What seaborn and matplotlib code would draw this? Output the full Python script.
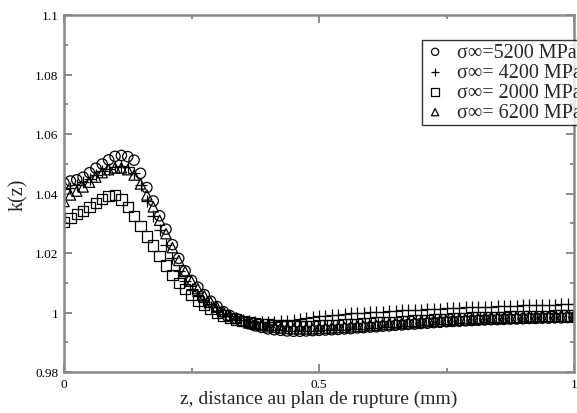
import numpy as np
import pandas as pd
import matplotlib
matplotlib.use('Agg')
import matplotlib.pyplot as plt
import seaborn as sns

# z grid (mm), one point every 0.0125
z = np.arange(81) * 0.0125

k_5200 = [1.0435, 1.0442, 1.0446, 1.0455, 1.0470, 1.0485, 1.0499, 1.0513, 1.0525, 1.0528,
          1.0524, 1.0512, 1.0468, 1.0420, 1.0375, 1.0325, 1.0280, 1.0228, 1.0182, 1.0140,
          1.0108, 1.0085, 1.0060, 1.0038, 1.0020, 1.0003, 0.9990, 0.9980, 0.9970, 0.9962,
          0.9955, 0.9950, 0.9945, 0.9942, 0.9940, 0.9938, 0.9937, 0.9937, 0.9938, 0.9939,
          0.9940, 0.9941, 0.9942, 0.9943, 0.9945, 0.9946, 0.9948, 0.9949, 0.9951, 0.9952,
          0.9954, 0.9955, 0.9957, 0.9958, 0.9960, 0.9961, 0.9963, 0.9964, 0.9966, 0.9967,
          0.9969, 0.9970, 0.9971, 0.9972, 0.9973, 0.9974, 0.9975, 0.9976, 0.9976, 0.9977,
          0.9978, 0.9978, 0.9979, 0.9980, 0.9980, 0.9981, 0.9981, 0.9982, 0.9982, 0.9983,
          0.9983]

k_4200 = [1.0414, 1.0420, 1.0428, 1.0438, 1.0450, 1.0462, 1.0474, 1.0484, 1.0490, 1.0492,
          1.0488, 1.0470, 1.0428, 1.0375, 1.0325, 1.0278, 1.0228, 1.0182, 1.0140, 1.0105,
          1.0078, 1.0055, 1.0035, 1.0018, 1.0005, 0.9995, 0.9987, 0.9980, 0.9975, 0.9971,
          0.9969, 0.9968, 0.9968, 0.9969, 0.9971, 0.9973, 0.9975, 0.9978, 0.9981, 0.9984,
          0.9987, 0.9989, 0.9991, 0.9993, 0.9995, 0.9997, 0.9998, 0.9999, 1.0001, 1.0002,
          1.0003, 1.0005, 1.0006, 1.0007, 1.0008, 1.0009, 1.0010, 1.0011, 1.0012, 1.0013,
          1.0014, 1.0015, 1.0016, 1.0017, 1.0018, 1.0019, 1.0020, 1.0020, 1.0021, 1.0022,
          1.0022, 1.0023, 1.0024, 1.0024, 1.0025, 1.0025, 1.0026, 1.0026, 1.0027, 1.0027,
          1.0028]

k_2000 = [1.0305, 1.0318, 1.0330, 1.0342, 1.0355, 1.0368, 1.0381, 1.0392, 1.0395, 1.0380,
          1.0355, 1.0325, 1.0290, 1.0255, 1.0225, 1.0190, 1.0158, 1.0125, 1.0100, 1.0080,
          1.0058, 1.0040, 1.0025, 1.0012, 1.0000, 0.9990, 0.9982, 0.9976, 0.9971, 0.9967,
          0.9964, 0.9962, 0.9960, 0.9958, 0.9957, 0.9956, 0.9955, 0.9955, 0.9955, 0.9955,
          0.9956, 0.9957, 0.9958, 0.9959, 0.9960, 0.9961, 0.9962, 0.9963, 0.9964, 0.9966,
          0.9967, 0.9968, 0.9969, 0.9971, 0.9972, 0.9973, 0.9974, 0.9975, 0.9977, 0.9978,
          0.9979, 0.9980, 0.9981, 0.9982, 0.9983, 0.9983, 0.9984, 0.9985, 0.9985, 0.9986,
          0.9987, 0.9987, 0.9988, 0.9988, 0.9989, 0.9989, 0.9989, 0.9990, 0.9990, 0.9990,
          0.9991]

k_6200 = [1.0373, 1.0395, 1.0408, 1.0422, 1.0438, 1.0455, 1.0470, 1.0480, 1.0486, 1.0486,
          1.0480, 1.0462, 1.0432, 1.0395, 1.0355, 1.0310, 1.0265, 1.0218, 1.0175, 1.0138,
          1.0105, 1.0080, 1.0056, 1.0035, 1.0018, 1.0003, 0.9990, 0.9980, 0.9972, 0.9965,
          0.9960, 0.9956, 0.9952, 0.9950, 0.9948, 0.9946, 0.9945, 0.9945, 0.9945, 0.9945,
          0.9946, 0.9947, 0.9948, 0.9949, 0.9950, 0.9952, 0.9953, 0.9954, 0.9956, 0.9957,
          0.9959, 0.9960, 0.9962, 0.9963, 0.9965, 0.9966, 0.9967, 0.9969, 0.9970, 0.9971,
          0.9972, 0.9973, 0.9974, 0.9975, 0.9976, 0.9977, 0.9978, 0.9979, 0.9980, 0.9980,
          0.9981, 0.9982, 0.9982, 0.9983, 0.9984, 0.9984, 0.9985, 0.9985, 0.9986, 0.9986,
          0.9986]

labels = ['σ∞=5200 MPa', 'σ∞= 4200 MPa', 'σ∞= 2000 MPa', 'σ∞= 6200 MPa']
series = [k_5200, k_4200, k_2000, k_6200]
markers = ['o', '+', 's', '^']
sizes = [55, 80, 55, 55]

df = pd.concat([pd.DataFrame({'z': z, 'k': k, 'serie': lab})
                for k, lab in zip(series, labels)], ignore_index=True)

sns.set_style('ticks')
plt.rcParams['font.family'] = ['Liberation Serif', 'DejaVu Serif']

fig = plt.figure(figsize=(5.77, 4.14), dpi=100)
ax = fig.add_axes([64/577, 1 - 373/414, 510/577, 357/414])

for lab, m, s in zip(labels, markers, sizes):
    sub = df[df['serie'] == lab]
    if m == '+':
        sns.scatterplot(data=sub, x='z', y='k', marker=m, s=s, color='black',
                        linewidth=0.9, label=lab, ax=ax)
    else:
        sns.scatterplot(data=sub, x='z', y='k', marker=m, s=s, facecolor='none',
                        edgecolor='black', linewidth=0.9, label=lab, ax=ax)

ax.set_xlim(0, 1)
ax.set_ylim(0.98, 1.1)
ax.set_xticks([0, 0.5, 1])
ax.set_xticklabels(['0', '0.5', '1'])
ax.set_xticks([0.25, 0.75], minor=True)
ax.set_yticks([0.98, 1.0, 1.02, 1.04, 1.06, 1.08, 1.1])
ax.set_yticklabels(['0.98', '1', '1.02', '1.04', '1.06', '1.08', '1.1'])
ax.set_yticks(np.arange(0.99, 1.1, 0.02), minor=True)
ax.tick_params(which='both', direction='in', top=True, right=True, colors='#777777',
               labelcolor='black', labelsize=9.5, width=1.2)
ax.tick_params(which='major', length=6, pad=4)
ax.tick_params(which='minor', length=3)
for sp in ax.spines.values():
    sp.set_color('#888888')
    sp.set_linewidth(1.8)

ax.set_xlabel('z, distance au plan de rupture (mm)', fontsize=14, labelpad=0)
ax.set_ylabel('k(z)', fontsize=14.5, labelpad=5)

leg = ax.legend(loc='upper left', bbox_to_anchor=(422/577, 1 - 41/414),
                bbox_transform=fig.transFigure, fontsize=14.5, frameon=True,
                fancybox=False, edgecolor='black', borderpad=0.15, labelspacing=0.05,
                handlelength=1.0, handletextpad=0.6, borderaxespad=0, markerscale=0.7)
leg.get_frame().set_linewidth(1.0)

fig.savefig('out.png', dpi=100, facecolor='white')
